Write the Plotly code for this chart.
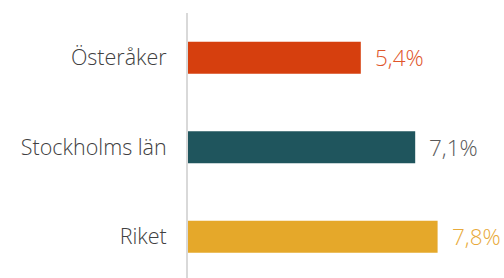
import plotly.graph_objects as go

categories = ["Riket", "Stockholms län", "Österåker"]
values = [7.8, 7.1, 5.4]
labels = ["7,8%", "7,1%", "5,4%"]
bar_colors = ["#E5A82A", "#1F555D", "#D63F0E"]
label_colors = ["#E8AA3A", "#595959", "#E0552A"]

FONT = "Open Sans"

fig = go.Figure()
fig.add_trace(go.Bar(
    y=categories, x=values, orientation="h",
    marker=dict(color=bar_colors, line=dict(width=0)),
    width=0.36, hoverinfo="skip",
))
for c, v, t, col in zip(categories, values, labels, label_colors):
    fig.add_annotation(x=v, y=c, text=t, showarrow=False, xanchor="left",
                       xshift=12, font=dict(family=FONT, size=22.5, color=col, weight=300))

fig.update_layout(
    width=504, height=278,
    margin=dict(l=188, r=0, t=13, b=0),
    paper_bgcolor="white", plot_bgcolor="white",
    showlegend=False,
    xaxis=dict(range=[0, 9.875], visible=False, fixedrange=True),
    yaxis=dict(range=[-0.461, 2.5], showline=True, linecolor="#D9D9D9", linewidth=2,
               showgrid=False, zeroline=False, ticks="", ticklabelstandoff=15,
               automargin=False, fixedrange=True,
               tickfont=dict(family=FONT, size=21.5, color="#404040", weight=300)),
)
fig.write_html("out.html", config={"displayModeBar": False},
               post_script="document.body.style.margin='0';document.body.style.overflow='hidden';")
